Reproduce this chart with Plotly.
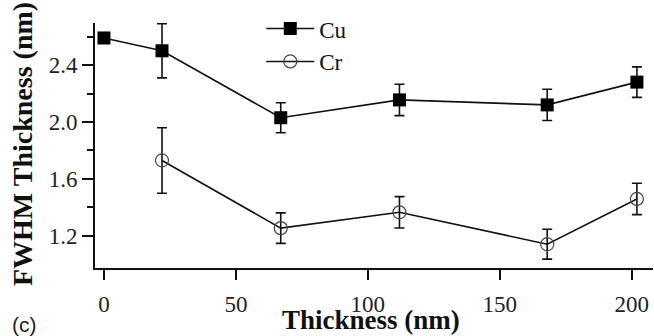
import plotly.graph_objects as go

# FWHM thickness versus layer thickness for the two metal layers
thickness_cu = [0, 22, 67, 112, 168, 202]
fwhm_cu = [2.59, 2.50, 2.03, 2.155, 2.12, 2.28]
err_cu = [0.0, 0.19, 0.105, 0.11, 0.11, 0.107]

thickness_cr = [22, 67, 112, 168, 202]
fwhm_cr = [1.73, 1.255, 1.366, 1.142, 1.46]
err_cr = [0.23, 0.107, 0.11, 0.105, 0.11]

x_ticks = [0, 50, 100, 150, 200]
y_ticks = [1.2, 1.6, 2.0, 2.4]
y_minor = [1.4, 1.8, 2.2, 2.6]
y_range = [0.975, 2.695]

serif = "Liberation Serif"
tick_font = dict(family=serif, size=23, color="#222")

fig = go.Figure()

fig.add_trace(go.Scatter(
    x=thickness_cu, y=fwhm_cu, name="Cu", mode="lines+markers",
    line=dict(color="#111", width=1.6),
    marker=dict(symbol="square", size=13, color="#000"),
    error_y=dict(type="data", array=err_cu, visible=True,
                 color="#111", thickness=1.6, width=5),
))

fig.add_trace(go.Scatter(
    x=thickness_cr, y=fwhm_cr, name="Cr", mode="lines+markers",
    line=dict(color="#111", width=1.6),
    marker=dict(symbol="circle-open", size=13, color="#444",
                line=dict(width=1.2, color="#444")),
    error_y=dict(type="data", array=err_cr, visible=True,
                 color="#111", thickness=1.6, width=5),
))

# empty trace so the overlaid minor-tick axis gets drawn
fig.add_trace(go.Scatter(x=[], y=[], yaxis="y2", showlegend=False,
                         hoverinfo="skip"))

fig.update_layout(
    width=654, height=336,
    margin=dict(l=95, r=1, t=23, b=68),
    paper_bgcolor="white", plot_bgcolor="white",
    font=dict(family=serif, color="#222"),
    showlegend=True,
    legend=dict(x=0.298, y=1.065, xanchor="left", yanchor="top",
                bgcolor="rgba(0,0,0,0)", itemwidth=48,
                font=dict(family=serif, size=23, color="#111"),
                tracegroupgap=0),
    xaxis=dict(
        range=[-3.4, 208.1], tickmode="array", tickvals=x_ticks,
        ticktext=[str(v) for v in x_ticks], tickfont=tick_font,
        showline=True, linecolor="#111", linewidth=2,
        ticks="outside", ticklen=10, tickwidth=1.6, tickcolor="#111",
        showgrid=False, zeroline=False, ticklabelstandoff=4,
    ),
    yaxis=dict(
        range=y_range, tickmode="array", tickvals=y_ticks,
        ticktext=[f"{v:.1f}" for v in y_ticks], tickfont=tick_font,
        showline=True, linecolor="#111", linewidth=2,
        ticks="outside", ticklen=11, tickwidth=1.6, tickcolor="#111",
        showgrid=False, zeroline=False,
    ),
    # unlabeled minor ticks on an overlaid copy of the y axis
    yaxis2=dict(
        range=y_range, overlaying="y", side="left", anchor="x",
        tickmode="array", tickvals=y_minor, showticklabels=False,
        ticks="outside", ticklen=7, tickwidth=1.6, tickcolor="#111",
        showline=False, showgrid=False, zeroline=False,
    ),
)

fig.add_annotation(text="<b>Thickness (nm)</b>", xref="paper", yref="paper",
                   x=0.4946, y=-0.212, xanchor="center", yanchor="middle",
                   showarrow=False,
                   font=dict(family=serif, size=27, color="#111"))
fig.add_annotation(text="<b>FWHM Thickness (nm)</b>", xref="paper", yref="paper",
                   x=-0.1308, y=0.506, xanchor="center", yanchor="middle",
                   textangle=-90, showarrow=False,
                   font=dict(family=serif, size=28, color="#111"))
fig.add_annotation(text="(c)", xref="paper", yref="paper",
                   x=-0.1272, y=-0.2286, xanchor="center", yanchor="middle",
                   showarrow=False,
                   font=dict(family="Liberation Sans", size=21, color="#222"))

fig.write_html("out.html")
